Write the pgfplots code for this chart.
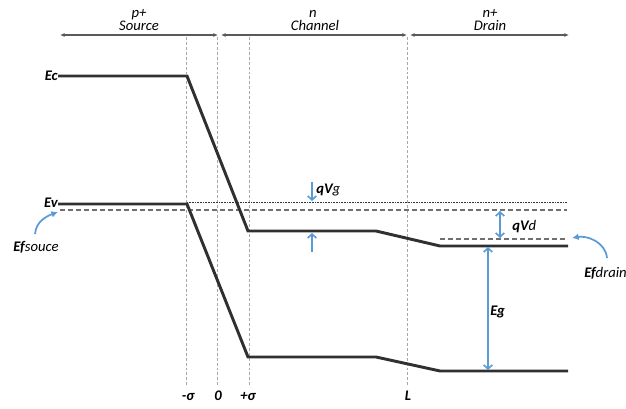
\documentclass[border=0pt]{standalone}
\usepackage{pgfplots}
\pgfplotsset{compat=1.18}
\usepackage{fontspec}
\setmainfont{Carlito}
\usetikzlibrary{arrows.meta}
\definecolor{band}{HTML}{303030}
\definecolor{blu}{HTML}{5B9BD5}
\definecolor{efc}{HTML}{707070}
\definecolor{vline}{HTML}{A8A8A8}
\definecolor{topc}{HTML}{5A5A5A}
\begin{document}
\begin{tikzpicture}
\begin{axis}[scale only axis, width=469.5pt, height=306.75pt,
  xmin=0, xmax=626, ymin=0, ymax=409, y dir=reverse, hide axis, clip=false]
% vertical region lines
\addplot[vline, line width=0.6pt, dash pattern=on 2.2pt off 1.5pt] coordinates {(186,37) (186,387)};
\addplot[vline, line width=0.6pt, dash pattern=on 2.2pt off 1.5pt] coordinates {(217,37) (217,387)};
\addplot[vline, line width=0.6pt, dash pattern=on 2.2pt off 1.5pt] coordinates {(249,37) (249,387)};
\addplot[vline, line width=0.6pt, dash pattern=on 2.2pt off 1.5pt] coordinates {(407,37) (407,387)};
% Fermi levels
\addplot[efc, line width=0.9pt, dash pattern=on 3.8pt off 2.2pt] coordinates {(60,210) (567,210)};
\addplot[efc, line width=0.9pt, dash pattern=on 3.8pt off 2.2pt] coordinates {(440,239) (567,239)};
\addplot[black!80, line width=0.5pt, dash pattern=on 0.6pt off 0.6pt] coordinates {(187,202.5) (567,202.5)};
% bands
\addplot[band, line width=2.2pt] coordinates {(58,76) (187,76) (248,231) (376,231) (440,246) (568,246)};
\addplot[band, line width=2.2pt] coordinates {(58,204) (187,204) (248,357) (376,357) (440,371) (568,371)};
% top region arrows
\addplot[topc, line width=0.8pt, {Latex[length=3.5pt,width=3pt]}-{Latex[length=3.5pt,width=3pt]}] coordinates {(60,35) (218,35)};
\addplot[topc, line width=0.8pt, {Latex[length=3.5pt,width=3pt]}-{Latex[length=3.5pt,width=3pt]}] coordinates {(221,35) (407,35)};
\addplot[topc, line width=0.8pt, {Latex[length=3.5pt,width=3pt]}-{Latex[length=3.5pt,width=3pt]}] coordinates {(410,35) (569,35)};
% blue arrows
\tikzset{bh/.tip={Straight Barb[length=3pt,width=6.5pt,line width=1.2pt]}}
\addplot[blu, line width=1.3pt, -bh] coordinates {(312,182) (312,201)};
\addplot[blu, line width=1.3pt, -bh] coordinates {(312,252) (312,233)};
\addplot[blu, line width=1.3pt, bh-bh] coordinates {(500,211) (500,238)};
\addplot[blu, line width=1.3pt, bh-bh] coordinates {(488,247) (488,370)};
\draw[blu, line width=1.3pt, -{Latex[length=5pt,width=5pt]}] (axis cs:35,234) to[out=85,in=200] (axis cs:58,212);
\draw[blu, line width=1.3pt, -{Latex[length=5pt,width=5pt]}] (axis cs:607,258) to[out=95,in=10] (axis cs:572,238);
% labels
\tikzset{lab/.style={font=\fontsize{11}{13}\selectfont\itshape, inner sep=0pt}}
\node[lab, anchor=base] at (axis cs:139,18) {p+};
\node[lab, anchor=base] at (axis cs:139,31) {Source};
\node[lab, anchor=base] at (axis cs:313,18) {n};
\node[lab, anchor=base] at (axis cs:315,31) {Channel};
\node[lab, anchor=base] at (axis cs:490,18) {n+};
\node[lab, anchor=base] at (axis cs:490,31) {Drain};
\node[lab, anchor=east] at (axis cs:58,76) {\bfseries Ec};
\node[lab, anchor=east] at (axis cs:58,203) {\bfseries Ev};
\node[lab, anchor=center] at (axis cs:36,247) {{\bfseries Ef}souce};
\node[lab, anchor=west] at (axis cs:584,273) {{\bfseries Ef}drain};
\node[lab, anchor=west] at (axis cs:316,190) {{\bfseries qV}g};
\node[lab, anchor=west] at (axis cs:512,227) {{\bfseries qV}d};
\node[lab, anchor=west] at (axis cs:490,312) {\bfseries Eg};
\node[lab, anchor=base] at (axis cs:188,401) {\bfseries -σ};
\node[lab, anchor=base] at (axis cs:218,401) {\bfseries 0};
\node[lab, anchor=base] at (axis cs:248,401) {\bfseries +σ};
\node[lab, anchor=base] at (axis cs:408,401) {\bfseries L};
\end{axis}
\pgfresetboundingbox
\useasboundingbox (current axis.south west) rectangle (current axis.north east);
\end{tikzpicture}
\end{document}
